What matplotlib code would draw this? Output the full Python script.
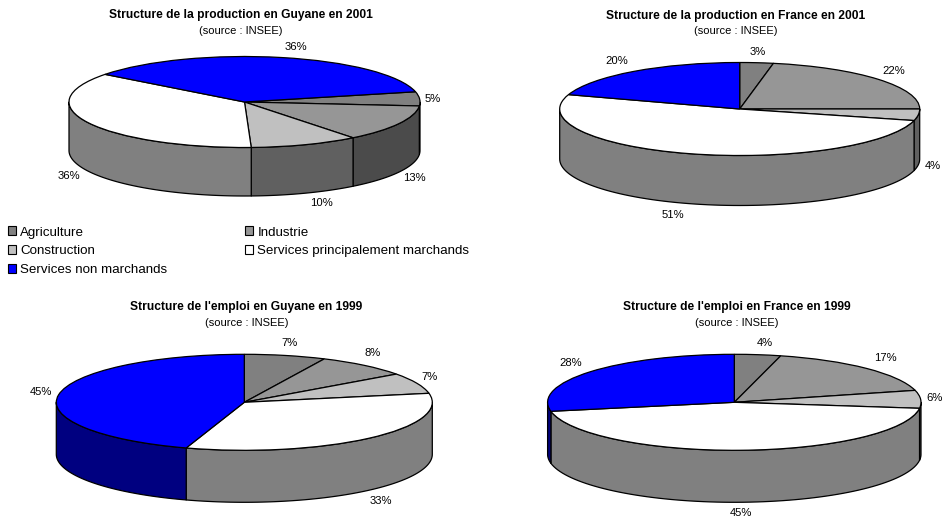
import numpy as np
import matplotlib
matplotlib.use("Agg")
import matplotlib.pyplot as plt
from matplotlib.patches import Patch, Polygon

plt.rcParams["font.family"] = ["Liberation Sans", "DejaVu Sans"]

# Data
sectors = ["Agriculture", "Industrie", "Construction",
           "Services principalement marchands", "Services non marchands"]
production_guyane = [5, 13, 10, 36, 36]
production_france = [3, 22, 4, 51, 20]
emploi_guyane = [7, 8, 7, 33, 45]
emploi_france = [4, 17, 6, 45, 28]

# Styles
top_colors = ["#808080", "#969696", "#c0c0c0", "#ffffff", "#0000ff"]
side_colors = ["#404040", "#4b4b4b", "#606060", "#808080", "#000080"]

W, H = 944, 518
fig = plt.figure(figsize=(W / 100, H / 100), dpi=100, facecolor="white")


def fx(x):
    return x / W


def fy(y):
    return 1 - y / H


# Each chart: values, title, title centre, pie geometry in pixels, first slice angle, label centres
charts = [
    dict(values=production_guyane, title="Structure de la production en Guyane en 2001",
         tx=240.5, ty=15, sy=31, cx=244.5, cy=102, rx=175.5, ry=45.5, depth=48.5, start=77,
         labels=[(433, 99), (414, 178), (321, 203), (69, 176), (296, 47)]),
    dict(values=production_france, title="Structure de la production en France en 2001",
         tx=735.5, ty=16, sy=31, cx=739.7, cy=109, rx=180, ry=46.5, depth=50, start=0,
         labels=[(758, 52), (894, 71), (933, 166), (673, 215), (617, 61)]),
    dict(values=emploi_guyane, title="Structure de l'emploi en Guyane en 1999",
         tx=246.5, ty=307, sy=323, cx=244.3, cy=402.3, rx=188, ry=48, depth=52, start=0,
         labels=[(290, 343), (373, 353), (430, 377), (381, 501), (41, 392)]),
    dict(values=emploi_france, title="Structure de l'emploi en France en 1999",
         tx=737, ty=307, sy=323, cx=734.3, cy=402.3, rx=186.7, ry=48, depth=52, start=0,
         labels=[(765, 343), (885, 358), (935, 398), (741, 513), (571, 363)]),
]


def draw_pie(spec):
    d = spec["depth"] / spec["ry"]
    margin = 0.1
    left = spec["cx"] - (1 + margin) * spec["rx"]
    top = spec["cy"] - (1 + margin) * spec["ry"]
    width = 2 * (1 + margin) * spec["rx"]
    height = (2 + 2 * margin + d) * spec["ry"]
    ax = fig.add_axes([fx(left), fy(top + height), width / W, height / H])

    values = np.asarray(spec["values"], dtype=float)
    # Rim of the disc: only the part facing the viewer (90 to 270 degrees clockwise from north)
    edges = spec["start"] + np.concatenate([[0], np.cumsum(values)]) * 3.6
    for a0, a1, colour in zip(edges[:-1], edges[1:], side_colors):
        for shift in (0, 360):
            lo, hi = max(a0 - shift, 90), min(a1 - shift, 270)
            if hi <= lo:
                continue
            t = np.radians(np.linspace(lo, hi, 80))
            xs, ys = np.sin(t), np.cos(t)
            outline = np.column_stack([np.r_[xs, xs[::-1]], np.r_[ys, ys[::-1] - d]])
            ax.add_patch(Polygon(outline, closed=True, facecolor=colour,
                                 edgecolor="black", linewidth=0.9, joinstyle="round"))

    # Top face
    ax.pie(values, colors=top_colors, startangle=90 - spec["start"], counterclock=False,
           radius=1, wedgeprops=dict(edgecolor="black", linewidth=0.9))
    ax.set_aspect("auto")
    ax.set_xlim(-1 - margin, 1 + margin)
    ax.set_ylim(-1 - margin - d, 1 + margin)
    ax.axis("off")

    fig.text(fx(spec["tx"]), fy(spec["ty"]), spec["title"], fontsize=8.65, fontweight="bold",
             ha="center", va="center", color="black")
    fig.text(fx(spec["tx"]), fy(spec["sy"]), "(source : INSEE)", fontsize=8.0,
             ha="center", va="center", color="black")
    for value, (lx, ly) in zip(spec["values"], spec["labels"]):
        fig.text(fx(lx), fy(ly), f"{value}%", fontsize=8.1, ha="center", va="center",
                 color="black")


for chart in charts:
    draw_pie(chart)

# Legend, filled column by column: left column first, then right column
order = [0, 2, 4, 1, 3]
handles = [Patch(facecolor=top_colors[i], edgecolor="black", linewidth=0.8) for i in order]
fig.legend(handles, [sectors[i] for i in order], ncol=2, loc="upper left",
           bbox_to_anchor=(fx(7.5), fy(226.5)), frameon=False, fontsize=9.6, borderpad=0,
           borderaxespad=0, handlelength=0.65, handleheight=0.65, handletextpad=0.3,
           labelspacing=0.5, columnspacing=5.8)

fig.savefig("out.png", dpi=100, facecolor="white")
